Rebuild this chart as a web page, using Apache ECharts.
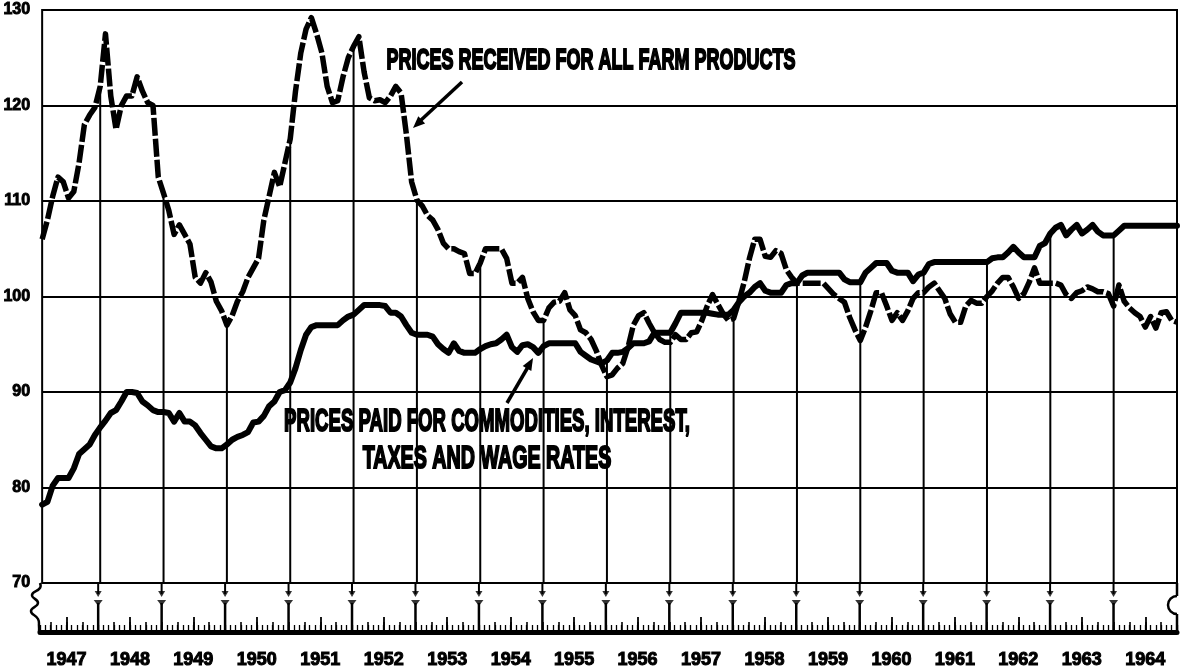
<!DOCTYPE html>
<html>
<head>
<meta charset="utf-8">
<script src="https://cdn.jsdelivr.net/npm/echarts@6/dist/echarts.min.js"></script>
<style>
html,body{margin:0;padding:0;background:#fff;}
#chart{width:1180px;height:670px;}
</style>
</head>
<body>
<div id="chart"></div>
<script>
// ---- data (monthly index numbers) ----
const years = [1947,1948,1949,1950,1951,1952,1953,1954,1955,1956,1957,1958,1959,1960,1961,1962,1963,1964];
const monthNames = ['Jan','Feb','Mar','Apr','May','Jun','Jul','Aug','Sep','Oct','Nov','Dec'];
const yMin = 70, yMax = 130, yStep = 10;

const pricesReceived = [
  /*1947*/ 106,108,110.5,112.5,112,110.3,111,114,118,119,119.8,122,
  /*1948*/ 127.5,121,117.5,120,121,121,123,121.5,120.3,120,112.5,110.8,
  /*1949*/ 109,106.5,107.5,106.5,105.5,102,101.4,102.5,101.5,99.5,98.5,97,
  /*1950*/ 98,99.5,100.5,102,103,104,108,110.5,113,111.5,114,116.5,
  /*1951*/ 121.5,125.5,128,129.2,127.5,125.5,122,120.3,120.5,123,125,126.2,
  /*1952*/ 127.2,123.5,120.8,120.5,120.6,120.3,121,122,121.3,117,112,110.1,
  /*1953*/ 109.5,108.5,108,107,105.6,105,105,104.7,104.5,102.4,102.4,103.5,
  /*1954*/ 105,105,105,105,104,101.4,101.4,102,99.8,98.4,97.5,97.5,
  /*1955*/ 98.8,99.4,99.5,100.4,98.6,98,96.5,96.2,95.5,94.3,92.8,91.6,
  /*1956*/ 91.8,92.5,93,94.7,97,98,98.3,97.2,96.2,95.5,95.2,95.2,
  /*1957*/ 96,95.5,95.5,96.2,96.3,97.5,99,100.2,99.2,98.2,97.5,97.7,
  /*1958*/ 99.5,101.5,104,106,106,104.2,104.1,104.8,104.5,102.8,102,101.4,
  /*1959*/ 101.4,101.4,101.4,101.4,101.4,100.8,100.2,99.8,99.4,97.8,96.5,95.4,
  /*1960*/ 96.8,98.5,100.4,100.4,99,97.5,98.3,97.5,98.5,99.8,100.4,100.4,
  /*1961*/ 101,101.4,100.6,99.8,98.2,97.3,97.3,99,99.6,99.3,99.3,100,
  /*1962*/ 100.6,101.4,102,102,101,99.8,100.3,101.5,103,101.4,101.4,101.4,
  /*1963*/ 101.4,101.2,100.2,99.8,100.4,100.6,101,100.8,100.5,100.5,100.3,99,
  /*1964*/ 101.2,99.5,98.8,98.3,97.9,96.8,97.9,96.7,98.3,98.4,97.5,97.3
];

const pricesPaid = [
  /*1947*/ 78.2,78.5,80.2,81,81,81,82,83.5,84,84.5,85.5,86.3,
  /*1948*/ 87,87.8,88.1,89,90,90,89.9,89,88.6,88.1,87.9,87.9,
  /*1949*/ 87.8,86.9,87.8,86.9,86.9,86.5,85.7,85,84.3,84.1,84.1,84.5,
  /*1950*/ 85,85.3,85.5,85.8,86.8,86.9,87.5,88.5,89,90,90.2,91,
  /*1951*/ 92.5,94.4,96,96.8,97,97,97,97,97,97.5,97.9,98.1,
  /*1952*/ 98.6,99.1,99.1,99.1,99.1,99,98.3,98.3,97.9,97,96.2,96,
  /*1953*/ 96,96,95.8,95,94.5,94.1,95.1,94.3,94.1,94.1,94.1,94.5,
  /*1954*/ 94.8,95,95.1,95.5,96,94.7,94.2,94.9,95,94.7,94.1,94.8,
  /*1955*/ 95.1,95.1,95.1,95.1,95.1,95.1,94.2,93.8,93.4,93.2,93,93.3,
  /*1956*/ 94.1,94.1,94.2,94.6,95.1,95.1,95.1,95.3,96.2,96.2,96.2,96.2,
  /*1957*/ 97.2,98.3,98.3,98.3,98.3,98.3,98.3,98.2,98.1,98.1,98.1,98.6,
  /*1958*/ 99.4,100,100.4,101,101.4,100.6,100.4,100.4,100.4,101.2,101.4,101.4,
  /*1959*/ 102.2,102.5,102.5,102.5,102.5,102.5,102.5,102.5,101.8,101.5,101.5,101.5,
  /*1960*/ 102.5,103,103.5,103.5,103.5,102.7,102.5,102.5,102.5,101.6,102.3,102.5,
  /*1961*/ 103.4,103.6,103.6,103.6,103.6,103.6,103.6,103.6,103.6,103.6,103.6,103.6,
  /*1962*/ 104,104.1,104.1,104.6,105.2,104.6,104.1,104.1,104.1,105.3,105.6,106.6,
  /*1963*/ 107.2,107.5,106.4,107,107.5,106.6,107,107.5,106.8,106.4,106.4,106.4,
  /*1964*/ 106.9,107.4,107.4,107.4,107.4,107.4,107.4,107.4,107.4,107.4,107.4,107.4
];

const labelReceived = 'PRICES RECEIVED FOR ALL FARM PRODUCTS';
const labelPaid1 = 'PRICES PAID FOR COMMODITIES, INTEREST,';
const labelPaid2 = 'TAXES AND WAGE RATES';

// ---- derived ----
const categories = years.flatMap(y => monthNames.map(m => y + ' ' + m));
const lastIdx = categories.length - 1;
const isYearEnd = i => i % 12 === 11 && i < lastIdx;
const dropLines = categories.map((c, i) => isYearEnd(i) ? Math.max(pricesReceived[i], pricesPaid[i]) : '-');
const yearMarks = categories.map((c, i) => isYearEnd(i) ? 1 : '-');
const arrowMarks = categories.map((c, i) => isYearEnd(i) ? 0 : '-');

const FONT = '"Liberation Sans Narrow", "Arial Narrow", sans-serif';
const BLACK = '#000';

const baseCat = (gridIndex) => ({
  type: 'category', gridIndex, data: categories, boundaryGap: false, position: 'bottom', offset: 0
});

const annot = (text, cx, cy, sx, size) => ({
  type: 'group', silent: true, x: cx, y: cy, scaleX: sx, scaleY: 1,
  children: [{
    type: 'text', x: 0, y: 0,
    style: { text: text, fontFamily: FONT, fontWeight: 'bold', fontSize: size, fill: BLACK,
             stroke: BLACK, lineWidth: 2, align: 'center', verticalAlign: 'middle' }
  }]
});

const option = {
  animation: false,
  backgroundColor: '#fff',
  grid: [
    { left: 40, right: 3, top: 10, height: 573, show: true, borderColor: BLACK, borderWidth: 2, backgroundColor: 'transparent' },
    { left: 40, right: 3, top: 583, height: 11 },
    { left: 40, right: 3, top: 603, height: 29 }
  ],
  xAxis: [
    Object.assign(baseCat(0), { show: false }),
    Object.assign(baseCat(1), { show: false }),
    Object.assign(baseCat(2), {
      axisLine: { show: true, lineStyle: { color: BLACK, width: 5 } },
      axisTick: { show: true, inside: true, interval: 0, length: 7, lineStyle: { color: BLACK, width: 1.3 } },
      axisLabel: {
        interval: (i) => i % 12 === 5,
        formatter: (v) => v.slice(0, 4),
        margin: 19,
        color: BLACK, fontFamily: FONT, fontWeight: 'bold', fontSize: 18,
        textBorderColor: BLACK, textBorderWidth: 1
      },
      splitLine: { show: false }
    }),
    Object.assign(baseCat(2), {
      axisLine: { show: false },
      axisTick: { show: true, inside: true, interval: (i) => i % 3 === 2, length: 10, lineStyle: { color: BLACK, width: 1.6 } },
      axisLabel: { show: false }, splitLine: { show: false }
    }),
    Object.assign(baseCat(2), {
      axisLine: { show: false },
      axisTick: { show: true, inside: true, interval: (i) => i % 12 === 5, length: 15, lineStyle: { color: BLACK, width: 1.8 } },
      axisLabel: { show: false }, splitLine: { show: false }
    })
  ],
  yAxis: [
    {
      type: 'value', gridIndex: 0, min: yMin, max: yMax, interval: yStep,
      axisLine: { show: false }, axisTick: { show: false },
      axisLabel: {
        margin: 12, color: BLACK, fontFamily: FONT, fontWeight: 'bold', fontSize: 16,
        textBorderColor: BLACK, textBorderWidth: 0.9
      },
      splitLine: { show: true, lineStyle: { color: BLACK, width: 2 } }
    },
    { type: 'value', gridIndex: 1, min: 0, max: 1, show: false },
    { type: 'value', gridIndex: 2, min: 0, max: 1, show: false }
  ],
  series: [
    {
      name: 'Year lines', type: 'bar', xAxisIndex: 0, yAxisIndex: 0,
      data: dropLines, barWidth: 2, itemStyle: { color: BLACK }, z: 2, silent: true
    },
    {
      name: labelReceived, type: 'line', xAxisIndex: 0, yAxisIndex: 0,
      data: pricesReceived, showSymbol: false, z: 5, silent: true,
      lineStyle: { color: BLACK, width: 5.5, type: [18, 3], cap: 'butt', join: 'round' }
    },
    {
      name: labelPaid1 + ' ' + labelPaid2, type: 'line', xAxisIndex: 0, yAxisIndex: 0,
      data: pricesPaid, showSymbol: false, z: 6, silent: true,
      lineStyle: { color: BLACK, width: 6, cap: 'round', join: 'round' }
    },
    {
      type: 'bar', xAxisIndex: 1, yAxisIndex: 1, data: yearMarks, barWidth: 2,
      itemStyle: { color: BLACK }, silent: true
    },
    {
      type: 'scatter', xAxisIndex: 1, yAxisIndex: 1, data: arrowMarks,
      symbol: 'triangle', symbolRotate: 180, symbolSize: [7, 6], itemStyle: { color: BLACK }, silent: true
    },
    {
      type: 'bar', xAxisIndex: 2, yAxisIndex: 2, data: yearMarks, barWidth: 2.5,
      itemStyle: { color: BLACK }, silent: true
    },
    {
      type: 'scatter', xAxisIndex: 2, yAxisIndex: 2, data: yearMarks,
      symbol: 'triangle', symbolRotate: 180, symbolSize: [9, 6], itemStyle: { color: BLACK }, silent: true
    }
  ],
  graphic: [
    // axis break symbols
    { type: 'polyline', silent: true,
      shape: { points: [[40,583],[40,588],[32,595],[38,603],[31,611],[38,619],[39,626],[39,632]], smooth: 0.5 },
      style: { fill: null, stroke: BLACK, lineWidth: 2.5 } },
    { type: 'line', silent: true, shape: { x1: 1177, y1: 583, x2: 1177, y2: 596 }, style: { stroke: BLACK, lineWidth: 2.5 } },
    { type: 'arc', silent: true, shape: { cx: 1177, cy: 605, r: 9, startAngle: Math.PI * 1.5, endAngle: Math.PI * 0.5, clockwise: false },
      style: { fill: null, stroke: BLACK, lineWidth: 2.5 } },
    { type: 'line', silent: true, shape: { x1: 1177, y1: 614, x2: 1177, y2: 632 }, style: { stroke: BLACK, lineWidth: 2.5 } },
    // annotations
    annot(labelReceived, 591, 61, 0.60, 30),
    annot(labelPaid1, 487, 422, 0.60, 31),
    annot(labelPaid2, 487, 459, 0.635, 31),
    // arrows
    { type: 'line', silent: true, shape: { x1: 462, y1: 82, x2: 420, y2: 121 }, style: { stroke: BLACK, lineWidth: 3.5 } },
    { type: 'polygon', silent: true, shape: { points: [[413,128],[425.1,123.4],[418.3,116.2]] }, style: { fill: BLACK } },
    { type: 'line', silent: true, shape: { x1: 507, y1: 403, x2: 528, y2: 367 }, style: { stroke: BLACK, lineWidth: 3.5 } },
    { type: 'polygon', silent: true, shape: { points: [[533,358],[531.3,370.9],[522.7,365.9]] }, style: { fill: BLACK } }
  ]
};

const chart = echarts.init(document.getElementById('chart'), null, { renderer: 'canvas' });
chart.setOption(option);
</script>
</body>
</html>
